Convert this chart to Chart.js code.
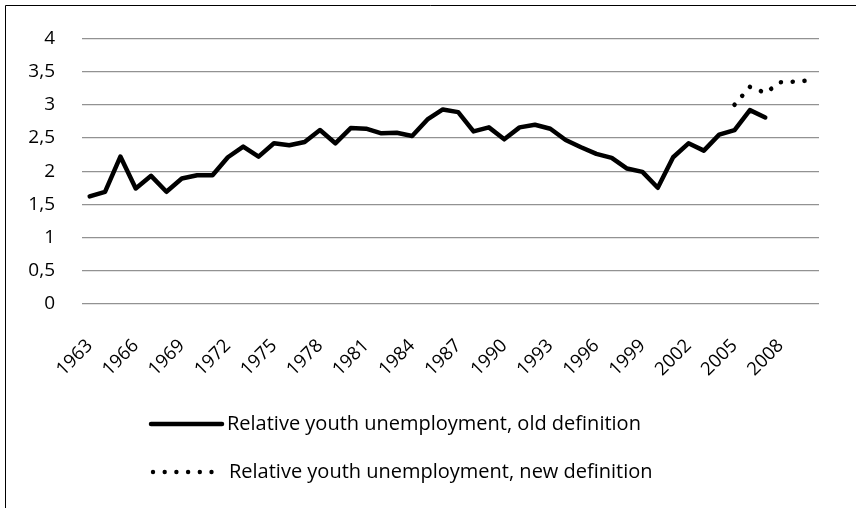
<!DOCTYPE html>
<html>
<head>
<meta charset="utf-8">
<script src="https://cdn.jsdelivr.net/npm/chart.js@4"></script>
<style>
  html, body { margin: 0; padding: 0; background: #fff; }
  #wrap { width: 856px; height: 508px; position: relative; }
</style>
</head>
<body>
<div id="wrap"><canvas id="c" width="856" height="508"></canvas></div>
<script>
const years = [1963,1964,1965,1966,1967,1968,1969,1970,1971,1972,1973,1974,1975,1976,1977,1978,1979,1980,1981,1982,1983,1984,1985,1986,1987,1988,1989,1990,1991,1992,1993,1994,1995,1996,1997,1998,1999,2000,2001,2002,2003,2004,2005,2006,2007,2008,2009,2010];
// Old definition, 1963-2007
const oldDefinition = [1.62,1.69,2.22,1.74,1.93,1.69,1.89,1.94,1.94,2.21,2.37,2.22,2.42,2.39,2.44,2.62,2.42,2.65,2.64,2.57,2.58,2.53,2.78,2.93,2.89,2.60,2.66,2.48,2.66,2.70,2.64,2.47,2.36,2.26,2.20,2.04,1.99,1.75,2.21,2.42,2.31,2.55,2.62,2.92,2.81];
// New definition, 2005-2010
const newDefinitionStart = 2005;
const newDefinition = [3.00,3.27,3.18,3.34,3.35,3.37];
const yTicks = [0,0.5,1,1.5,2,2.5,3,3.5,4];
const seriesLabels = ['Relative youth unemployment, old definition','Relative youth unemployment, new definition'];

const oldData = years.map((y, i) => i < oldDefinition.length ? oldDefinition[i] : null);
const newData = years.map(y => {
  const k = y - newDefinitionStart;
  return (k >= 0 && k < newDefinition.length) ? newDefinition[k] : null;
});

const FONT = "'Open Sans', 'Noto Sans', sans-serif";

const frameAndLegend = {
  id: 'frameAndLegend',
  afterDraw(chart) {
    const ctx = chart.ctx;
    ctx.save();
    // outer frame (top & left visible)
    ctx.strokeStyle = '#000';
    ctx.lineWidth = 1;
    ctx.beginPath();
    ctx.moveTo(5.5, 508);
    ctx.lineTo(5.5, 5.5);
    ctx.lineTo(856, 5.5);
    ctx.stroke();

    // legend
    const rows = [424, 472];
    const x0 = 151, x1 = 222;
    ctx.font = "20px " + FONT;
    ctx.fillStyle = '#000';
    ctx.textBaseline = 'middle';
    ctx.textAlign = 'left';
    // row 1: solid
    ctx.strokeStyle = '#000';
    ctx.lineWidth = 4.5;
    ctx.lineCap = 'round';
    ctx.beginPath();
    ctx.moveTo(x0, rows[0]);
    ctx.lineTo(x1, rows[0]);
    ctx.stroke();
    ctx.fillText(seriesLabels[0], 227, rows[0]);
    // row 2: dots
    for (let i = 0; i < 6; i++) {
      ctx.beginPath();
      ctx.arc(153 + i * 11.7, rows[1], 2.2, 0, Math.PI * 2);
      ctx.fill();
    }
    ctx.fillText(seriesLabels[1], 229, rows[1]);
    ctx.restore();
  }
};

new Chart(document.getElementById('c'), {
  type: 'line',
  data: {
    labels: years.map(String),
    datasets: [
      {
        label: seriesLabels[0],
        data: oldData,
        borderColor: '#000',
        borderWidth: 4.5,
        borderJoinStyle: 'round',
        borderCapStyle: 'round',
        pointRadius: 0,
        tension: 0,
        spanGaps: false,
        fill: false
      },
      {
        label: seriesLabels[1],
        data: newData,
        borderColor: '#000',
        borderWidth: 4.6,
        borderCapStyle: 'round',
        borderDash: [0.01, 11.8],
        pointRadius: 0,
        tension: 0,
        fill: false
      }
    ]
  },
  options: {
    responsive: false,
    animation: false,
    devicePixelRatio: 1,
    layout: { padding: { left: 0, top: 34, right: 37, bottom: 0 } },
    plugins: {
      legend: { display: false },
      tooltip: { enabled: false }
    },
    scales: {
      x: {
        type: 'category',
        offset: true,
        grid: { display: false, drawTicks: false },
        border: { display: false },
        ticks: {
          autoSkip: false,
          minRotation: 45,
          maxRotation: 45,
          padding: 31,
          color: '#000',
          font: { family: FONT, size: 18.5 },
          callback: function(val, idx) { return idx % 3 === 0 ? this.getLabelForValue(val) : ''; }
        },
        afterFit(scale) { scale.height = 204; scale.paddingLeft = 0; scale.paddingRight = 0; }
      },
      y: {
        min: 0,
        max: 4,
        afterBuildTicks(scale) { scale.ticks = yTicks.map(v => ({ value: v })); },
        grid: { color: '#929292', lineWidth: 1.2, drawTicks: false },
        border: { display: false },
        ticks: {
          padding: 27,
          color: '#000',
          font: { family: FONT, size: 19 },
          callback: v => String(v).replace('.', ',')
        },
        afterFit(scale) { scale.width = 82; }
      }
    }
  },
  plugins: [frameAndLegend]
});
</script>
</body>
</html>
